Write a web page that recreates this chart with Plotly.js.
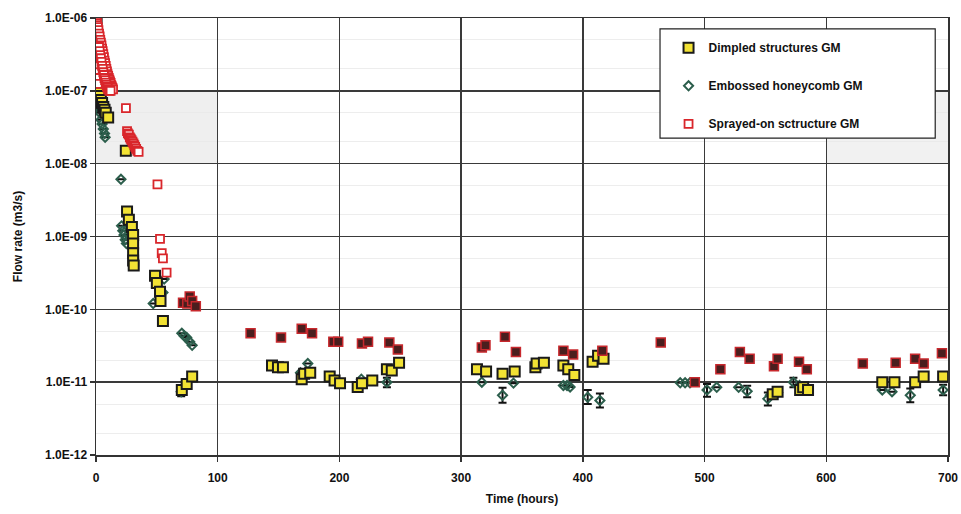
<!DOCTYPE html>
<html>
<head>
<meta charset="utf-8">
<script src="https://cdn.plot.ly/plotly-3.0.1.min.js"></script>
<style>html,body{margin:0;padding:0;background:#fff;}#chart{width:961px;height:514px;}</style>
</head>
<body>
<div id="chart"></div>
<script>
// ---- data (time in hours, flow rate in m3/s) ----
const dimpledTime = [0.5, 2, 3, 4, 5, 6, 7, 8, 10,
  24.5,
  25.5, 27, 29.5, 30.5, 30.5, 30.5, 30.5, 31,
  48.5, 50, 52.6, 53, 55,
  70.5, 74.5, 79,
  144.6, 149.5, 153.6, 169, 171, 176, 192, 196, 200.5, 215, 218.5, 227, 239, 243, 249,
  313, 320.5, 334, 344,
  361, 362, 368, 384, 388, 393,
  408, 412.5, 417,
  556, 560, 578.5, 581, 585,
  646, 656, 673, 680, 696];
const dimpledFlow = [9.8e-7, 9.5e-8, 8.5e-8, 7.5e-8, 6.8e-8, 6e-8, 5.5e-8, 5e-8, 4.3e-8,
  1.5e-8,
  2.2e-9, 1.7e-9, 1.35e-9, 1.05e-9, 8e-10, 5.9e-10, 4.7e-10, 4e-10,
  2.9e-10, 2.3e-10, 1.75e-10, 1.3e-10, 6.9e-11,
  7.8e-12, 9.4e-12, 1.2e-11,
  1.7e-11, 1.6e-11, 1.6e-11, 1.1e-11, 1.3e-11, 1.35e-11, 1.2e-11, 1.05e-11, 9.7e-12, 8.6e-12, 9.7e-12, 1.05e-11, 1.5e-11, 1.45e-11, 1.85e-11,
  1.5e-11, 1.4e-11, 1.3e-11, 1.4e-11,
  1.6e-11, 1.8e-11, 1.85e-11, 1.7e-11, 1.5e-11, 1.25e-11,
  1.9e-11, 2.3e-11, 2.1e-11,
  6.8e-12, 7.4e-12, 7.8e-12, 8.5e-12, 7.8e-12,
  1e-11, 1e-11, 1e-11, 1.2e-11, 1.2e-11];

const embossedTime = [2, 3, 4, 5, 6, 7, 7.5,
  20.5,
  21, 22, 23, 24, 25,
  47, 55, 56,
  70.5, 72.5, 74.5, 77, 79,
  70,
  168, 174, 218, 239,
  317, 334, 343,
  384, 387, 389.5,
  404, 414,
  480, 484, 488,
  502, 510, 528, 535,
  552, 554, 560, 573, 578,
  646, 654, 669, 696];
const embossedFlow = [6e-8, 5e-8, 4e-8, 3.5e-8, 3e-8, 2.6e-8, 2.3e-8,
  6.1e-9,
  1.4e-9, 1.2e-9, 1.05e-9, 9e-10, 8e-10,
  1.2e-10, 1.7e-10, 2.6e-10,
  4.7e-11, 4.3e-11, 4.1e-11, 3.6e-11, 3.2e-11,
  7.4e-12,
  1.35e-11, 1.8e-11, 1.1e-11, 1e-11,
  1e-11, 6.6e-12, 9.7e-12,
  9e-12, 9e-12, 8.6e-12,
  6.2e-12, 5.6e-12,
  9.8e-12, 9.8e-12, 9.8e-12,
  7.8e-12, 8.5e-12, 8.5e-12, 7.5e-12,
  5.9e-12, 6.6e-12, 7.2e-12, 1e-11, 9e-12,
  7.8e-12, 7.4e-12, 6.6e-12, 7.8e-12];
const embossedErrUp = [0, 0, 0, 0, 0, 0, 0,
  0,
  0, 0, 0, 0, 0,
  0, 0, 0,
  0, 0, 0, 0, 0,
  1.2e-12,
  0, 0, 0, 1.5e-12,
  0, 1.8e-12, 0,
  0, 0, 0,
  1.6e-12, 1.4e-12,
  0, 0, 0,
  1.6e-12, 0, 0, 1.4e-12,
  1.3e-12, 0, 0, 1.5e-12, 0,
  0, 0, 1.6e-12, 1.4e-12];
const embossedErrDown = [0, 0, 0, 0, 0, 0, 0,
  0,
  0, 0, 0, 0, 0,
  0, 0, 0,
  0, 0, 0, 0, 0,
  1e-12,
  0, 0, 0, 1.5e-12,
  0, 1.4e-12, 0,
  0, 0, 0,
  1.2e-12, 1.1e-12,
  0, 0, 0,
  1.5e-12, 0, 0, 1.3e-12,
  1.1e-12, 0, 0, 1.5e-12, 0,
  0, 0, 1.3e-12, 1.2e-12];

const sprayEarlyTime = [0, 0.3, 0.5, 0.8, 1, 1, 1.1, 1.2, 1.2, 1.3, 1.3, 1.4, 1.5, 1.6, 1.8, 2, 2.2,
  1.5, 2, 2.5, 3, 3.5, 4, 4.5, 5, 5.5, 6, 6.5, 7, 7.5, 8, 8.5, 9, 9.5, 10, 10.5, 11, 11.5, 12, 12.5, 13, 13.5, 14,
  2.5, 3, 3.5, 4, 4.5, 5, 5.5, 6, 6.5, 7, 7.5, 8, 8.5, 9, 9.5, 10, 11, 12,
  24.6, 25.5, 26.2, 27, 27.8, 28.5, 29.2, 30, 30.8, 31.5, 32.2, 33, 34, 35,
  50.5,
  52.6, 54, 55, 58];
const sprayEarlyFlow = [1e-6, 9.5e-7, 9e-7, 8.5e-7, 8e-7, 7e-7, 6.5e-7, 6e-7, 5e-7, 4.5e-7, 4e-7, 3.3e-7, 2.7e-7, 2.2e-7, 1.8e-7, 1.5e-7, 1.25e-7,
  7.5e-7, 6.8e-7, 6.1e-7, 5.6e-7, 5e-7, 4.6e-7, 4.2e-7, 3.8e-7, 3.5e-7, 3.2e-7, 2.9e-7, 2.6e-7, 2.4e-7, 2.2e-7, 2e-7, 1.85e-7, 1.7e-7, 1.6e-7, 1.5e-7, 1.42e-7, 1.35e-7, 1.28e-7, 1.2e-7, 1.15e-7, 1.1e-7, 1.05e-7,
  4e-7, 3.5e-7, 3.1e-7, 2.8e-7, 2.5e-7, 2.2e-7, 2e-7, 1.8e-7, 1.65e-7, 1.5e-7, 1.4e-7, 1.3e-7, 1.22e-7, 1.15e-7, 1.1e-7, 1.05e-7, 1e-7, 1e-7,
  5.8e-8, 2.8e-8, 2.6e-8, 2.5e-8, 2.3e-8, 2.2e-8, 2.1e-8, 2e-8, 1.9e-8, 1.8e-8, 1.7e-8, 1.6e-8, 1.5e-8, 1.45e-8,
  5.2e-9,
  9.3e-10, 5.9e-10, 5e-10, 3.2e-10];

const sprayLateTime = [71.5, 75, 77, 79, 82,
  127, 152, 169, 177.5, 195, 199, 218.5, 223.5, 241, 248,
  317, 320, 336, 345,
  384, 392, 416,
  464, 492,
  513, 529, 537, 557, 560, 577.6, 584,
  630, 657, 673, 680, 695];
const sprayLateFlow = [1.23e-10, 1.2e-10, 1.5e-10, 1.3e-10, 1.1e-10,
  4.7e-11, 4.1e-11, 5.4e-11, 4.7e-11, 3.6e-11, 3.6e-11, 3.4e-11, 3.6e-11, 3.5e-11, 2.8e-11,
  3.0e-11, 3.2e-11, 4.2e-11, 2.6e-11,
  2.7e-11, 2.4e-11, 2.7e-11,
  3.5e-11, 1e-11,
  1.5e-11, 2.6e-11, 2.1e-11, 1.65e-11, 2.1e-11, 1.9e-11, 1.5e-11,
  1.8e-11, 1.85e-11, 2.1e-11, 1.8e-11, 2.5e-11];

const seriesNames = ['Dimpled structures GM', 'Embossed honeycomb GM', 'Sprayed-on sctructure GM'];
const xTickVals = [0, 100, 200, 300, 400, 500, 600, 700];
const yTickVals = [1e-12, 1e-11, 1e-10, 1e-9, 1e-8, 1e-7, 1e-6];
const yTickText = ['1.0E-12', '1.0E-11', '1.0E-10', '1.0E-09', '1.0E-08', '1.0E-07', '1.0E-06'];

// ---- chart ----
const FONT = {family: 'Liberation Sans, Arial, sans-serif', size: 12, color: '#111', weight: 'bold'};

const traces = [
  {
    type: 'scatter', mode: 'markers', name: seriesNames[1], legendrank: 2, legendgroup: 'b',
    x: embossedTime, y: embossedFlow,
    marker: {symbol: 'diamond-open', size: 7, color: '#2c5e4c', line: {width: 2, color: '#2c5e4c'}},
    error_y: {type: 'data', symmetric: false, array: embossedErrUp, arrayminus: embossedErrDown,
      color: '#111', thickness: 2, width: 4}
  },
  {
    type: 'scatter', mode: 'markers', name: seriesNames[0], legendrank: 1, legendgroup: 'a',
    x: dimpledTime, y: dimpledFlow,
    marker: {symbol: 'square', size: 10, color: '#f2e234', line: {width: 2, color: '#1a1a1a'}}
  },
  {
    type: 'scatter', mode: 'markers', name: seriesNames[2], legendrank: 3, legendgroup: 'c',
    x: sprayEarlyTime, y: sprayEarlyFlow,
    marker: {symbol: 'square', size: 8, color: '#ffffff', line: {width: 1.8, color: '#d9262b'}}
  },
  {
    type: 'scatter', mode: 'markers', name: seriesNames[2], showlegend: false, legendgroup: 'c',
    x: sprayLateTime, y: sprayLateFlow,
    marker: {symbol: 'square', size: 9, color: '#4a1e1e', line: {width: 1.5, color: '#c8282d'}}
  }
];

const layout = {
  width: 961, height: 514,
  margin: {l: 96, r: 13, t: 18, b: 59},
  paper_bgcolor: '#ffffff', plot_bgcolor: '#ffffff',
  font: FONT,
  showlegend: true,
  legend: {
    x: 0.672, xanchor: 'left', y: 0.965, yanchor: 'top',
    bgcolor: 'rgba(0,0,0,0)', borderwidth: 0,
    tracegroupgap: 19, itemwidth: 30,
    font: FONT
  },
  xaxis: {
    range: [0, 700], tickvals: xTickVals, ticks: 'outside', ticklen: 5, tickwidth: 1.5, tickcolor: '#333',
    ticklabelstandoff: 6,
    showgrid: true, gridcolor: '#3a3a3a', gridwidth: 1.5, zeroline: false,
    showline: true, linecolor: '#333', linewidth: 1.5, mirror: true,
    tickfont: FONT,
    title: {text: 'Time (hours)', font: FONT, standoff: 10}
  },
  yaxis: {
    type: 'log', range: [-12, -6], tickvals: yTickVals, ticktext: yTickText,
    ticks: 'outside', ticklen: 5, tickwidth: 1.5, tickcolor: '#333',
    showgrid: true, gridcolor: '#3a3a3a', gridwidth: 1.5, zeroline: false,
    showline: true, linecolor: '#333', linewidth: 1.5, mirror: true,
    minor: {showgrid: true, gridcolor: '#e8e8e8', gridwidth: 0.8, ticks: ''},
    tickfont: FONT,
    title: {text: 'Flow rate (m3/s)', font: FONT, standoff: 20}
  },
  shapes: [
    {type: 'rect', xref: 'x', yref: 'paper', x0: 0, x1: 100, y0: 0.6667, y1: 0.8333,
      fillcolor: '#efefef', line: {width: 0}, layer: 'below'},
    {type: 'rect', xref: 'x', yref: 'paper', x0: 600, x1: 700, y0: 0.6667, y1: 0.8333,
      fillcolor: '#f1f1f1', line: {width: 0}, layer: 'below'},
    {type: 'rect', xref: 'paper', yref: 'paper', x0: 0.662, x1: 0.985, y0: 0.725, y1: 0.975,
      fillcolor: '#ffffff', line: {width: 1.2, color: '#222'}, layer: 'above'}
  ]
};

Plotly.newPlot('chart', traces, layout, {displayModeBar: false, staticPlot: true});
</script>
</body>
</html>
